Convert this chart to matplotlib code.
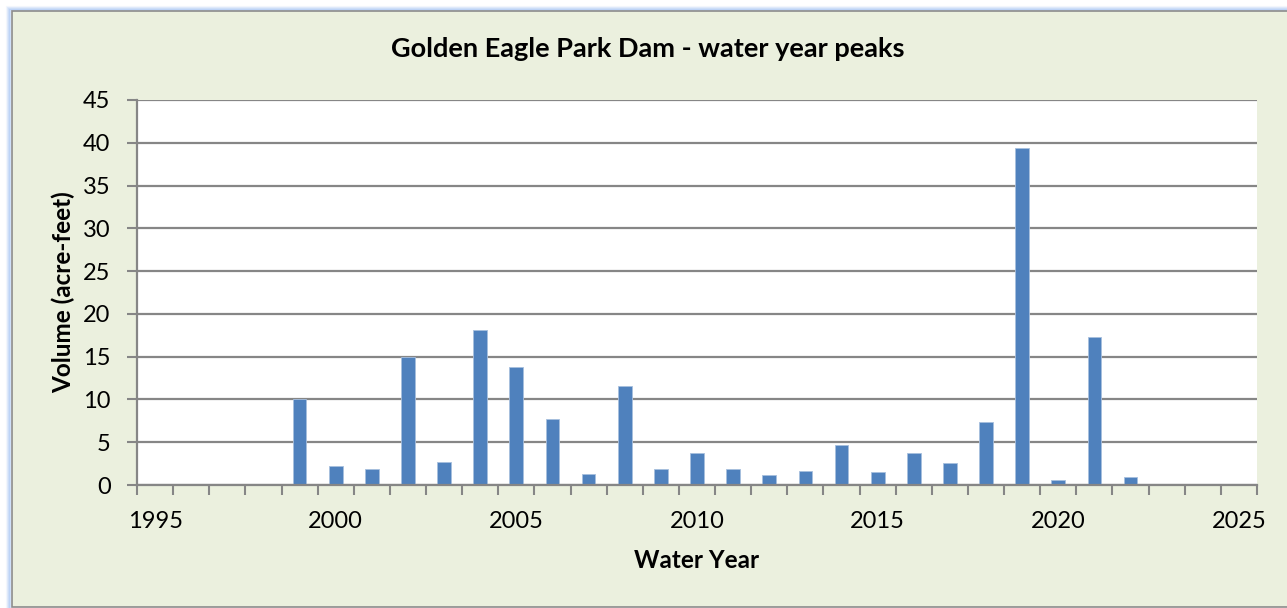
import matplotlib
matplotlib.use("Agg")
import matplotlib.pyplot as plt
from matplotlib.patches import Rectangle

years = [1999, 2000, 2001, 2002, 2003, 2004, 2005, 2006, 2007, 2008, 2009, 2010,
         2011, 2012, 2013, 2014, 2015, 2016, 2017, 2018, 2019, 2020, 2021, 2022]
volumes = [10.0, 2.2, 1.9, 15.0, 2.7, 18.1, 13.8, 7.7, 1.3, 11.6, 1.9, 3.7,
           1.9, 1.2, 1.6, 4.7, 1.5, 3.7, 2.6, 7.4, 39.4, 0.6, 17.3, 0.9]
xtick_labels = [1995, 2000, 2005, 2010, 2015, 2020, 2025]
yticks = [0, 5, 10, 15, 20, 25, 30, 35, 40, 45]

title = "Golden Eagle Park Dam - water year peaks"
xlabel = "Water Year"
ylabel = "Volume (acre-feet)"

W, H = 1287, 608
fig = plt.figure(figsize=(W / 100, H / 100), dpi=100)
fig.patch.set_facecolor("white")
font = ["Lato", "DejaVu Sans"]
plt.rcParams["font.family"] = font

# glow + frame
for i, a in enumerate([0.10, 0.18, 0.28, 0.40]):
    off = 5 - i
    fig.patches.append(Rectangle(((12 - off) / W, -0.05), 1300 / W, (608 - 12 + off) / H + 0.05,
                                 transform=fig.transFigure, facecolor="none",
                                 edgecolor=(0.55, 0.7, 0.95, a), linewidth=1.5, zorder=-3))
fig.patches.append(Rectangle((12 / W, (608 - 607) / H), 1300 / W, (607 - 11) / H,
                             transform=fig.transFigure, facecolor="#EBF0DE",
                             edgecolor="#8C8C8C", linewidth=1.2, zorder=-2))

ax = fig.add_axes([137 / W, (608 - 485) / H, (1257 - 137) / W, (485 - 100) / H])
ax.set_zorder(2)
ax.set_facecolor("white")
ax.bar(years, volumes, width=0.38, color="#4F81BD", edgecolor="#A7BFDE", linewidth=0.6, zorder=3)

ax.set_xlim(1994.5, 2025.5)
ax.set_ylim(0, 45)
ax.set_yticks(yticks)
ax.set_xticks(xtick_labels)
ax.set_xticklabels([str(v) for v in xtick_labels])
ax.set_xticks([y + 0.5 for y in range(1994, 2026)], minor=True)
ax.tick_params(axis="x", which="major", length=0, pad=19, labelsize=17)
ax.tick_params(axis="x", which="minor", length=7, width=1.5, color="#868686")
ax.tick_params(axis="y", which="major", length=7, width=1.5, color="#868686", labelsize=17, pad=12)

ax.yaxis.grid(True, color="#868686", linewidth=1.6, zorder=0)
ax.set_axisbelow(True)
for s in ["top", "right"]:
    ax.spines[s].set_visible(False)
for s in ["left", "bottom"]:
    ax.spines[s].set_color("#868686")
    ax.spines[s].set_linewidth(1.6)
    ax.spines[s].set_zorder(4)

fig.text(697 / W, 1 - 560 / H, xlabel, ha="center", va="center", fontsize=17.5, fontweight="bold")
fig.text(63 / W, 1 - 292 / H, ylabel, ha="center", va="center", rotation=90,
         fontsize=17.5, fontweight="bold")
fig.text(648 / W, 1 - 49 / H, title, ha="center", va="center", fontsize=19.5, fontweight="bold")

fig.savefig("out.png", dpi=100)
